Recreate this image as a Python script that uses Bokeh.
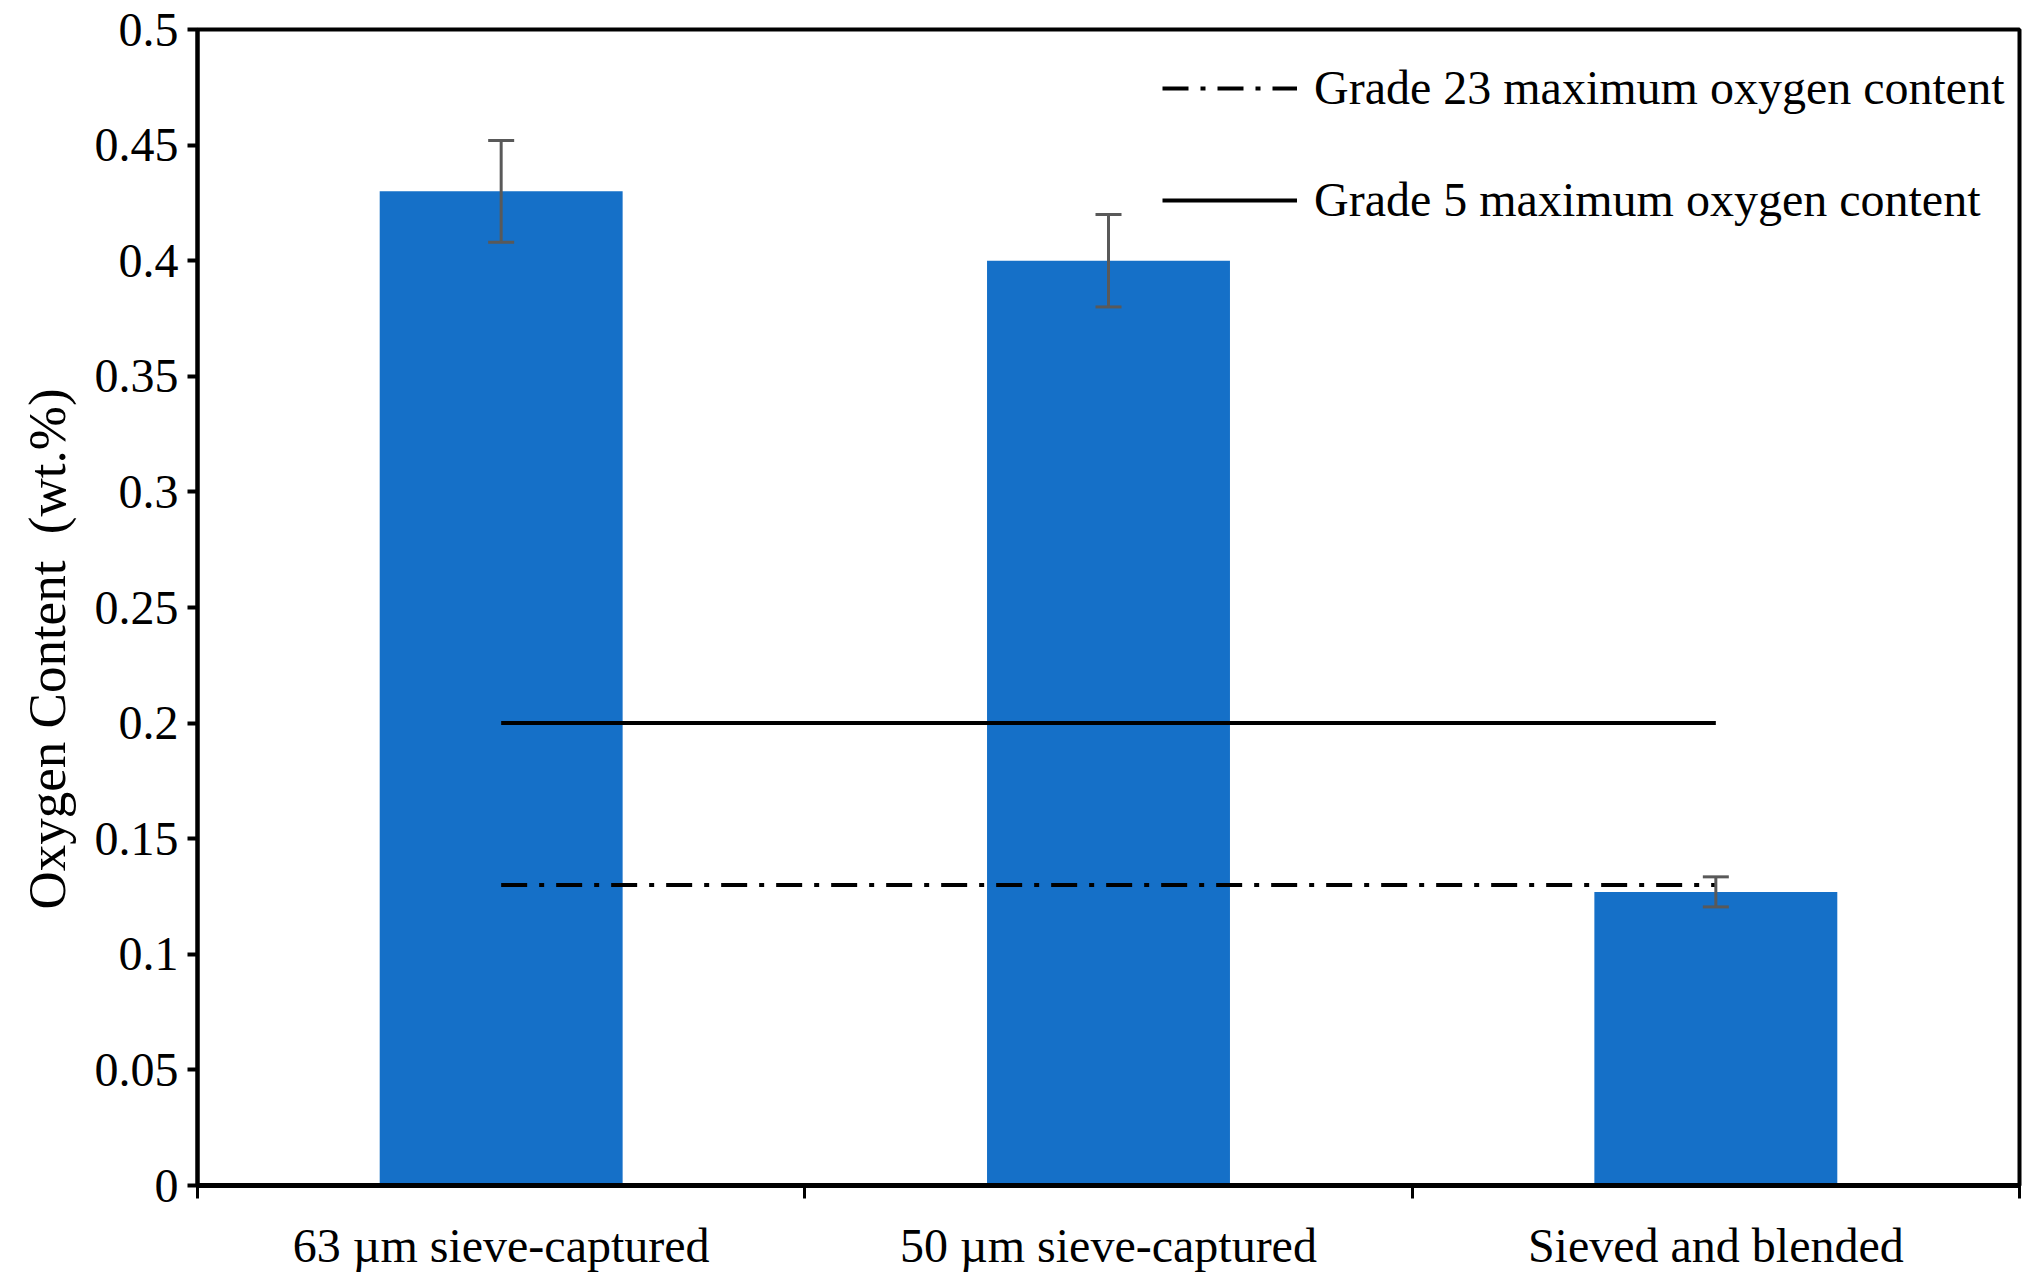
from bokeh.plotting import figure
from bokeh.models import ColumnDataSource, FixedTicker, Whisker, TeeHead, Legend, LegendItem, Range1d, Title
from bokeh.embed import file_html
from bokeh.resources import INLINE

# ---- data ----
categories = ["63 \u00b5m sieve-captured", "50 \u00b5m sieve-captured", "Sieved and blended"]
oxygen = [0.430, 0.400, 0.127]
oxygen_err = [0.022, 0.020, 0.0065]
grade23_max = 0.13
grade5_max = 0.20
y_ticks = [0, 0.05, 0.1, 0.15, 0.2, 0.25, 0.3, 0.35, 0.4, 0.45, 0.5]
y_tick_labels = ["0", "0.05", "0.1", "0.15", "0.2", "0.25", "0.3", "0.35", "0.4", "0.45", "0.5"]
y_title = "Oxygen Content\u00a0 (wt.%)"

FONT = "Liberation Serif"
BLUE = "#1570C8"

xc = [i + 0.5 for i in range(len(categories))]
src = ColumnDataSource(dict(
    x=xc, top=oxygen,
    upper=[v + e for v, e in zip(oxygen, oxygen_err)],
    lower=[v - e for v, e in zip(oxygen, oxygen_err)],
))

p = figure(width=2022, height=1274, output_backend="svg", toolbar_location=None,
           x_range=Range1d(0, len(categories)), y_range=Range1d(0, 0.5),
           min_border_left=196, min_border_right=3, min_border_top=29, min_border_bottom=88)
p.xgrid.visible = False
p.ygrid.visible = False
p.outline_line_color = "black"
p.outline_line_width = 4
p.background_fill_color = "white"
p.border_fill_color = "white"

p.vbar(x="x", top="top", width=0.4, bottom=0, source=src, fill_color=BLUE, line_color=None)

w = Whisker(source=src, base="x", upper="upper", lower="lower", dimension="height",
            line_color="#595959", line_width=3, level="overlay",
            upper_head=TeeHead(size=26, line_color="#595959", line_width=3),
            lower_head=TeeHead(size=26, line_color="#595959", line_width=3))
p.add_layout(w)

r5 = p.line(x=[xc[0], xc[-1]], y=[grade5_max, grade5_max], line_color="black", line_width=4)
r23 = p.line(x=[xc[0], xc[-1]], y=[grade23_max, grade23_max], line_color="black", line_width=4,
             line_dash="26 12 5 12")

legend = Legend(items=[LegendItem(label="Grade 23 maximum oxygen content", renderers=[r23]),
                       LegendItem(label="Grade 5 maximum oxygen content", renderers=[r5])],
                location=(965, 958), glyph_width=135, glyph_height=50, label_height=50,
                spacing=57, padding=0, margin=0, border_line_alpha=0, background_fill_alpha=0,
                label_text_font=FONT, label_text_font_size="48px", label_standoff=17,
                label_text_color="black")
p.add_layout(legend)

# y axis title: vertical title in the left panel, starting a set distance above the frame bottom
p.add_layout(Title(text=y_title, align="left", offset=276, standoff=31,
                   text_font=FONT, text_font_size="53px", text_font_style="normal",
                   text_color="black"), "left")

ya = p.yaxis[0]
ya.ticker = FixedTicker(ticks=y_ticks, minor_ticks=[])
ya.major_label_overrides = {t: l for t, l in zip(y_ticks, y_tick_labels)}
ya.major_label_text_font = FONT
ya.major_label_text_font_size = "48px"
ya.major_label_text_color = "black"
ya.axis_line_width = 4
ya.axis_line_color = "black"
ya.major_tick_line_width = 4
ya.major_tick_out = 10
ya.major_tick_in = 0
ya.major_label_standoff = 9

xa = p.xaxis[0]
xa.ticker = FixedTicker(ticks=xc, minor_ticks=[float(i) for i in range(len(categories) + 1)])
xa.major_label_overrides = {x: c for x, c in zip(xc, categories)}
xa.major_label_text_font = FONT
xa.major_label_text_font_size = "48px"
xa.major_label_text_color = "black"
xa.major_tick_line_alpha = 0
xa.major_tick_out = 0
xa.major_tick_in = 0
xa.major_label_standoff = 20
xa.minor_tick_line_color = "black"
xa.minor_tick_line_width = 3
xa.minor_tick_out = 13
xa.minor_tick_in = 0
xa.axis_line_width = 5
xa.axis_line_color = "black"

open("out.html", "w").write(file_html(p, INLINE))
